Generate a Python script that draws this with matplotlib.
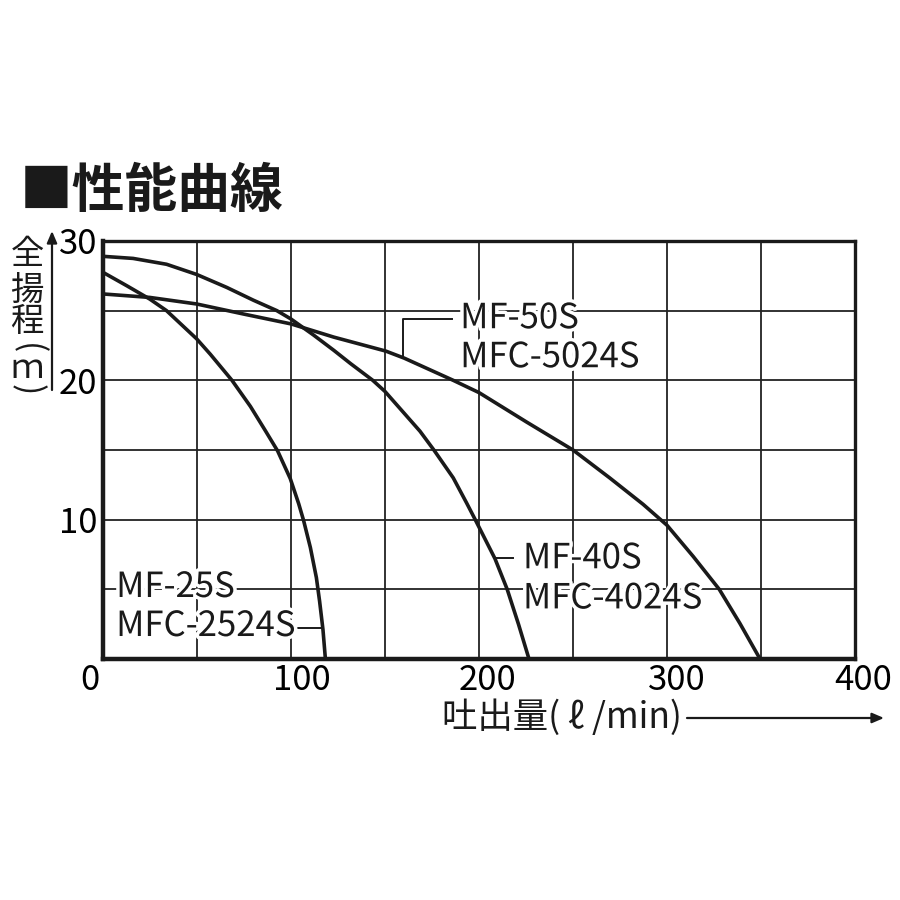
import matplotlib
matplotlib.use('Agg')
import matplotlib.pyplot as plt
import matplotlib.patheffects as pe
from matplotlib.transforms import ScaledTranslation

plt.rcParams['font.family'] = ['Noto Sans CJK JP', 'DejaVu Sans']

# pump performance curves: flow (l/min) vs total head (m)
mf25_q = [0, 12.5, 24.9, 33.8, 49.8, 57.1, 68.6, 78.4, 86.3, 92.9, 99.6, 104.1, 106.7,
          110.3, 113.5, 115.2, 117.0, 118.3]
mf25_h = [27.75, 26.8, 25.83, 25.0, 22.98, 21.87, 20.0, 18.13, 16.4, 14.93, 12.95, 11.14,
          9.94, 8.0, 5.84, 4.16, 2.11, 0]

mf40_q = [0, 16, 33.8, 49.8, 65.8, 80, 92.5, 100, 112, 122.8, 131.7, 143.5, 150, 168.6,
          176, 186.3, 193.4, 198, 208.5, 215, 221, 226.6]
mf40_h = [28.9, 28.75, 28.33, 27.6, 26.67, 25.75, 25.0, 24.4, 23.25, 22.15, 21.2, 20.0,
          19.2, 16.35, 15.0, 13.0, 11.2, 10.0, 7.2, 5.0, 2.5, 0]

mf50_q = [0, 24.9, 49.8, 74.7, 100, 122.8, 150.4, 160.1, 186.3, 200, 225.4, 250, 269.5,
          287.3, 300, 314, 327.8, 338.8, 349.5]
mf50_h = [26.2, 25.95, 25.48, 24.76, 24.05, 23.1, 22.1, 21.6, 20.0, 19.12, 17.0, 15.0,
          13.0, 11.1, 9.6, 7.35, 5.0, 2.55, 0]

x_ticks = [0, 100, 200, 300, 400]
y_ticks = [10, 20, 30]
x_minor = [50, 150, 250, 350]
y_minor = [5, 15, 25]

labels_25 = ['MF-25S', 'MFC-2524S']
labels_40 = ['MF-40S', 'MFC-4024S']
labels_50 = ['MF-50S', 'MFC-5024S']

fig = plt.figure(figsize=(9, 9), dpi=100)
ax = fig.add_axes([103 / 900, 1 - 659 / 900, 752 / 900, 418 / 900])

ax.set_xlim(0, 400)
ax.set_ylim(0, 30)
ax.set_xticks(x_ticks)
ax.set_yticks(y_ticks)
ax.set_xticks(x_minor, minor=True)
ax.set_yticks(y_minor, minor=True)
ax.grid(which='both', color='#222222', linewidth=1.3, zorder=1)
ax.set_axisbelow(True)
ax.tick_params(which='both', length=0)
ax.tick_params(axis='x', labelsize=25, pad=3)
ax.tick_params(axis='y', labelsize=25, pad=4)

# tick labels in the original sit a bit right of the grid lines
shifts = [-13, 11, 9, 10, 8]
for lbl, dx in zip(ax.get_xticklabels(), shifts):
    lbl.set_transform(lbl.get_transform() + ScaledTranslation(dx / 100, 0, fig.dpi_scale_trans))

for side, lw in [('left', 3.2), ('bottom', 3.2), ('top', 2.4), ('right', 2.4)]:
    ax.spines[side].set_linewidth(lw)
    ax.spines[side].set_color('#1a1a1a')
    ax.spines[side].set_zorder(5)

for q, h in [(mf25_q, mf25_h), (mf40_q, mf40_h), (mf50_q, mf50_h)]:
    ax.plot(q, h, color='#1a1a1a', linewidth=2.6, solid_joinstyle='round', zorder=4)

halo = [pe.withStroke(linewidth=5, foreground='white')]

def label(x, y, text):
    ax.text(x, y, text, fontsize=25, color='#1a1a1a', ha='left', va='baseline',
            path_effects=halo, zorder=6)

# leader lines
lead = dict(color='#1a1a1a', linewidth=1.4, zorder=4)
ax.plot([159.7, 159.7, 185.4], [21.6, 24.39, 24.39], **lead)
ax.plot([208.5, 218.3], [7.23, 7.23], **lead)
ax.plot([99.5, 116.9], [2.25, 2.25], **lead)

label(190, 23.74, labels_50[0])
label(190, 20.94, labels_50[1])
label(223.4, 6.51, labels_40[0])
label(223.4, 3.63, labels_40[1])
label(7.0, 4.45, labels_25[0])
label(7.0, 1.65, labels_25[1])

# title
fig.text(20 / 900, 1 - 192 / 900, '■性能曲線', fontsize=38, fontweight='bold',
         ha='left', va='center', color='#1a1a1a')

# vertical y label, one glyph per line; brackets turned for vertical writing
y_chars = ['全', '揚', '程', '(', 'ｍ', ')']
y_pos = [255, 290, 322, 349, 368, 390]
y_rot = [0, 0, 0, -90, 0, -90]
for ch, py, rot in zip(y_chars, y_pos, y_rot):
    fig.text(27 / 900, 1 - py / 900, ch, fontsize=24, ha='center', va='center',
             rotation=rot, color='#1a1a1a')
ax.annotate('', xy=(52, 900 - 231), xytext=(52, 900 - 390),
            xycoords='figure pixels', textcoords='figure pixels',
            arrowprops=dict(arrowstyle='-|>,head_length=0.7,head_width=0.3',
                            color='#1a1a1a', linewidth=1.6, shrinkA=0, shrinkB=0))

# x label with arrow
fig.text(442 / 900, 1 - 718 / 900, '吐出量( ℓ /min)', fontsize=25.5, ha='left',
         va='center', color='#1a1a1a')
ax.annotate('', xy=(884, 900 - 718), xytext=(687, 900 - 718),
            xycoords='figure pixels', textcoords='figure pixels',
            arrowprops=dict(arrowstyle='-|>,head_length=0.7,head_width=0.3',
                            color='#1a1a1a', linewidth=1.6, shrinkA=0, shrinkB=0))

fig.savefig('out.png', dpi=100, facecolor='white')
